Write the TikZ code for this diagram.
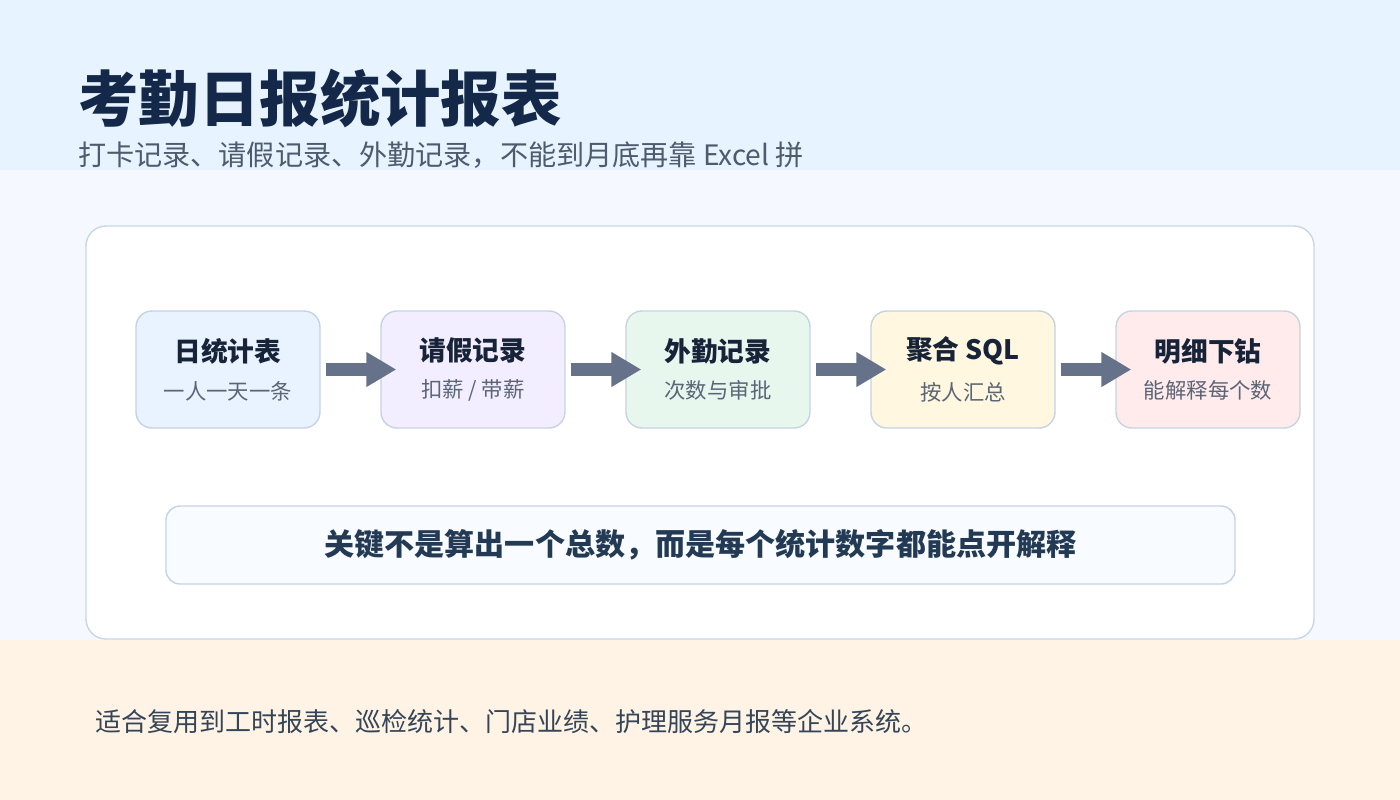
\documentclass[tikz,border=0pt]{standalone}
\usepackage{fontspec}
\setmainfont{Noto Sans CJK SC}
\usepackage{tikz}
\usetikzlibrary{matrix,arrows.meta,positioning,calc}
\definecolor{bandtop}{HTML}{E7F3FE}
\definecolor{bandmid}{HTML}{F5F9FF}
\definecolor{bandlow}{HTML}{FFF3E6}
\definecolor{cardline}{HTML}{C8D6E7}
\definecolor{stageline}{HTML}{C6D3E3}
\definecolor{stageblue}{HTML}{E9F2FF}
\definecolor{stagepurple}{HTML}{F2EEFF}
\definecolor{stagegreen}{HTML}{E8F7EE}
\definecolor{stageyellow}{HTML}{FFF7E0}
\definecolor{stagepink}{HTML}{FFEBEB}
\definecolor{flowgrey}{HTML}{667289}
\definecolor{titleink}{HTML}{14294A}
\definecolor{subink}{HTML}{4D5B6E}
\definecolor{stageink}{HTML}{172338}
\definecolor{noteink}{HTML}{5B6577}
\definecolor{keyfill}{HTML}{F8FBFF}
\definecolor{keyink}{HTML}{233A55}
\definecolor{footink}{HTML}{344558}
\newcommand{\stagetitle}[1]{{\fontsize{19}{22}\selectfont\bfseries\color{stageink}#1}}
\newcommand{\stagenote}[1]{{\fontsize{15.2}{18}\selectfont\color{noteink}#1}}

\begin{document}
\begin{tikzpicture}[stage/.style={draw=stageline, line width=1pt, rounded corners=0.4cm, minimum width=4.6cm, minimum height=2.925cm, align=center, inner sep=0pt},
flow/.style={draw=flowgrey, line width=0.325cm, -{Triangle[length=0.75cm,width=0.825cm]}, shorten <=0.125cm, shorten >=-0.4cm},
keynote/.style={draw=stageline, fill=keyfill, line width=1pt, rounded corners=0.35cm, minimum width=26.725cm, minimum height=1.95cm}]
\useasboundingbox (0,0) rectangle (35,-20);
\fill[bandtop] (0,0) rectangle (35,-4.25);
\fill[bandmid] (0,-4.25) rectangle (35,-16);
\fill[bandlow] (0,-16) rectangle (35,-20);
\draw[cardline, fill=white, line width=1pt, rounded corners=0.5cm] (2.15,-5.65) rectangle (32.85,-15.975);
\node[anchor=west, inner sep=0pt, text=titleink, font=\fontsize{43}{48}\selectfont\bfseries] (title) at (1.95,-2.45) {考勤日报统计报表};
\node[anchor=west, inner sep=0pt, text=subink, font=\fontsize{20}{24}\selectfont] (subtitle) at (1.95,-3.875) {打卡记录、请假记录、外勤记录，不能到月底再靠 Excel 拼};
\matrix (m) [column sep=1.49cm] at (17.95,-9.2375)
{
\node[stage, fill=stageblue] (daily) {\stagetitle{日统计表}\\[11pt]\stagenote{一人一天一条}}; &
\node[stage, fill=stagepurple] (leave) {\stagetitle{请假记录}\\[11pt]\stagenote{扣薪 / 带薪}}; &
\node[stage, fill=stagegreen] (field) {\stagetitle{外勤记录}\\[11pt]\stagenote{次数与审批}}; &
\node[stage, fill=stageyellow] (sqlagg) {\stagetitle{聚合 SQL}\\[11pt]\stagenote{按人汇总}}; &
\node[stage, fill=stagepink] (drill) {\stagetitle{明细下钻}\\[11pt]\stagenote{能解释每个数}}; \\
};
\foreach \from/\to in {daily/leave, leave/field, field/sqlagg, sqlagg/drill}
  \draw[flow] (\from.east) -- (\to.west);
\node[keynote, text=keyink, font=\fontsize{21.4}{24}\selectfont\bfseries] (key) at (17.5125,-13.625) {关键不是算出一个总数，而是每个统计数字都能点开解释};
\node[anchor=west, inner sep=0pt, text=footink, font=\fontsize{18.5}{22}\selectfont] (foot) at (2.375,-18.05) {适合复用到工时报表、巡检统计、门店业绩、护理服务月报等企业系统。};
\end{tikzpicture}
\end{document}
